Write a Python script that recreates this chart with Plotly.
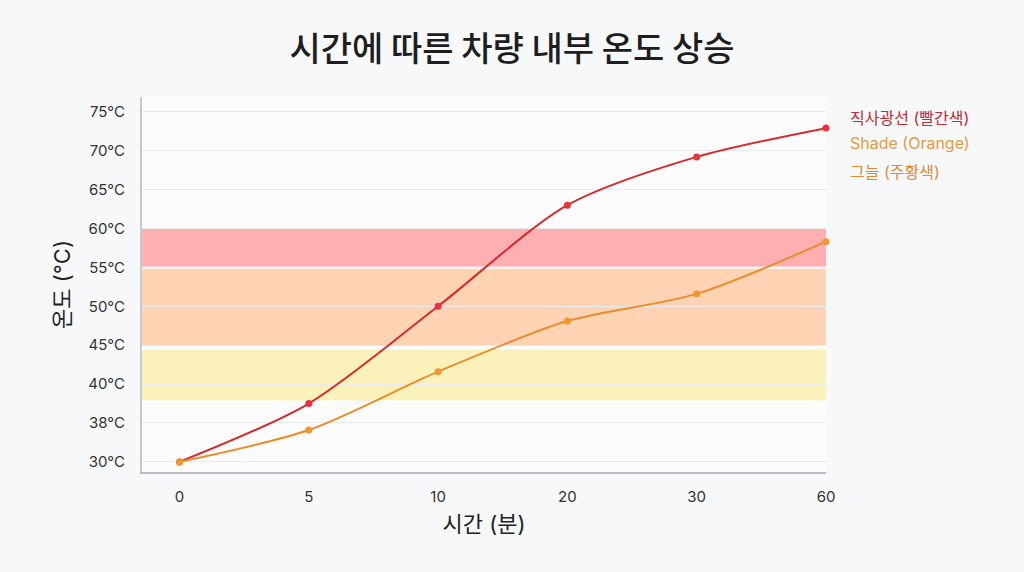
"""
차량 내부 온도 상승 차트
"""

import plotly.graph_objects as go

# data
minutes = ["0", "5", "10", "20", "30", "60"]
temp_sun = [30.0, 37.5, 50.0, 63.0, 69.2, 72.9]
temp_shade = [30.0, 34.1, 41.6, 48.1, 51.6, 58.3]

y_ticks = [30, 35, 40, 45, 50, 55, 60, 65, 70, 75]
y_tick_labels = ["30°C", "38°C", "40°C", "45°C", "50°C", "55°C", "60°C", "65°C", "70°C", "75°C"]

band_low = [55.1, 45.0, 37.9]
band_high = [60.0, 54.8, 44.4]
band_colors = ["rgba(255,160,165,0.85)", "rgba(255,200,160,0.8)", "rgba(250,238,170,0.8)"]

legend_labels = ["직사광선 (빨간색)", "Shade (Orange)", "그늘 (주황색)"]

RED = "#d42b2f"
ORANGE = "#ea8d2c"
FONT = "Inter, 'Noto Sans CJK KR', sans-serif"

fig = go.Figure()

# background bands
for lo, hi, col in zip(band_low, band_high, band_colors):
    fig.add_hrect(y0=lo, y1=hi, fillcolor=col, line_width=0, layer="below")

fig.add_trace(go.Scatter(
    x=minutes, y=temp_sun, mode="lines+markers",
    line=dict(color=RED, width=2, shape="spline", smoothing=0.8),
    marker=dict(color="#e8343a", size=7),
    name=legend_labels[0], cliponaxis=False, showlegend=False
))
fig.add_trace(go.Scatter(
    x=minutes, y=temp_shade, mode="lines+markers",
    line=dict(color=ORANGE, width=2, shape="spline", smoothing=0.8),
    marker=dict(color="#f0982f", size=7),
    name=legend_labels[2], cliponaxis=False, showlegend=False
))

# text legend at the right
legend_y = [0.944, 0.877, 0.80]
legend_colors = ["#c32a30", "#e39a45", "#e08a30"]
for txt, yy, col in zip(legend_labels, legend_y, legend_colors):
    fig.add_annotation(
        text=txt, xref="paper", yref="paper", x=1.032, y=yy,
        xanchor="left", yanchor="middle", showarrow=False,
        font=dict(size=16, color=col, family=FONT)
    )

fig.update_layout(
    width=1024, height=572,
    margin=dict(l=142, r=198, t=97, b=100),
    paper_bgcolor="#f7f8fa",
    plot_bgcolor="#fcfcfd",
    font=dict(family=FONT, color="#444"),
    title=dict(
        text="시간에 따른 차량 내부 온도 상승",
        x=0.5, xanchor="center", y=0.915, yanchor="middle",
        font=dict(size=34, color="#1e1e1e", weight=500,
                  family="'Noto Sans CJK KR', sans-serif")
    ),
    showlegend=False
)

fig.update_xaxes(
    type="category", range=[-0.29, 5.0],
    showgrid=False, showline=True, linecolor="#b8bcc4", linewidth=2,
    ticks="", ticklabelstandoff=10,
    tickfont=dict(size=15, color="#333"),
    title=dict(text="시간 (분)", font=dict(size=22, color="#222"), standoff=12),
    zeroline=False
)
fig.update_yaxes(
    range=[28.7, 76.9], tickvals=y_ticks, ticktext=y_tick_labels,
    showgrid=True, gridcolor="#e9eaee", gridwidth=1,
    showline=True, linecolor="#c4c8cf", linewidth=2,
    ticks="", ticklabelstandoff=12,
    tickfont=dict(size=15, color="#333"),
    title=dict(text="온도 (°C)", font=dict(size=22, color="#222"), standoff=12),
    zeroline=False
)

fig.write_html("out.html", config={"displayModeBar": False},
               post_script="document.body.style.margin='0';")
